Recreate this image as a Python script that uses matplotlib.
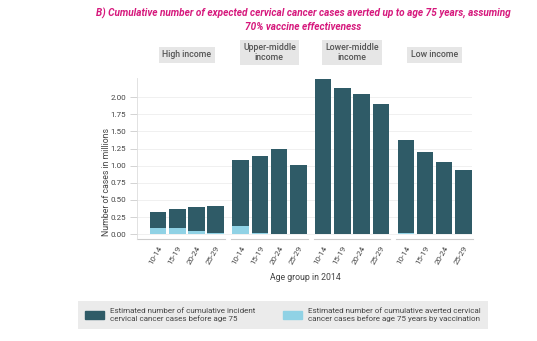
import numpy as np
import matplotlib.pyplot as plt
from matplotlib.patches import Patch

plt.rcParams["font.family"] = ["Roboto", "DejaVu Sans"]

groups = ["High income", "Upper-middle\nincome", "Lower-middle\nincome", "Low income"]
ages = ["10-14", "15-19", "20-24", "25-29"]

# cumulative incident cases before age 75 (millions)
incident = [
    [0.33, 0.365, 0.40, 0.405],
    [1.09, 1.14, 1.245, 1.015],
    [2.26, 2.135, 2.045, 1.90],
    [1.375, 1.20, 1.06, 0.935],
]
# cumulative averted cases by vaccination (millions)
averted = [
    [0.09, 0.09, 0.045, 0.015],
    [0.115, 0.02, 0.005, 0.005],
    [0.005, 0.005, 0.005, 0.005],
    [0.02, 0.005, 0.005, 0.005],
]

dark = "#2f5b67"
light = "#90d2e5"
txt = "#444444"

fig = plt.figure(figsize=(5.37, 3.41), dpi=100)
ax = fig.add_axes([137/537, 102/341, 335/537, 161/341])

gap = 4.3
pos = np.array([g*gap + np.arange(4) for g in range(4)])
for g in range(4):
    ax.bar(pos[g], incident[g], width=0.86, color=dark, zorder=2)
    ax.bar(pos[g], averted[g], width=0.86, color=light, zorder=3)
    mid = pos[g].mean()
    ax.text(mid, 1.158 if "\n" in groups[g] else 1.143, groups[g], transform=ax.get_xaxis_transform(),
            ha="center", va="center", fontsize=6.3, color="#555555", linespacing=1.1,
            fontweight="medium",
            bbox=dict(boxstyle="square,pad=0.4", fc="#e6e6e6", ec="none"))
    x0 = -1.1 if g == 0 else pos[g][0] - 0.5
    ax.plot([x0, pos[g][-1] + 0.5], [0, 0], transform=ax.get_xaxis_transform(),
            color="#cccccc", lw=0.8, clip_on=False)

ax.set_xlim(-1.1, pos[-1][-1] + 0.45)
ax.set_ylim(-0.07, 2.28)
ax.set_yticks(np.arange(0, 2.01, 0.25))
ax.set_yticklabels([f"{v:.2f}" for v in np.arange(0, 2.01, 0.25)])
ax.set_xticks(pos.ravel())
ax.set_xticklabels(ages * 4, rotation=60, ha="right", rotation_mode="anchor")
ax.tick_params(axis="y", length=5, width=0.6, color="#cccccc", labelsize=5.8,
               labelcolor=txt, pad=3)
ax.tick_params(axis="x", length=0, labelsize=5.8, labelcolor=txt, pad=4)
ax.grid(axis="y", color="#eeeeee", lw=0.6, zorder=0)
ax.set_axisbelow(True)
for s in ["top", "right", "bottom"]:
    ax.spines[s].set_visible(False)
ax.spines["left"].set_color("#dddddd")
ax.spines["left"].set_linewidth(0.6)

fig.text(106/537, 1 - 182/341, "Number of cases in millions", rotation=90,
         ha="center", va="center", fontsize=6.3, color=txt)
fig.text(305/537, 1 - 278/341, "Age group in 2014", ha="center", va="center",
         fontsize=6.3, color=txt)

fig.text(303/537, 1 - 13/341,
         "B) Cumulative number of expected cervical cancer cases averted up to age 75 years, assuming",
         ha="center", va="center", fontsize=7.2, color="#d6187c", fontweight="bold",
         style="italic")
fig.text(303/537, 1 - 27/341, "70% vaccine effectiveness",
         ha="center", va="center", fontsize=7.2, color="#d6187c", fontweight="bold",
         style="italic")

handles = [Patch(color=dark), Patch(color=light)]
labels = ["Estimated number of cumulative incident\ncervical cancer cases before age 75",
          "Estimated number of cumulative averted cervical\ncancer cases before age 75 years by vaccination"]
leg = fig.legend(handles, labels, ncol=2, mode="expand",
                 bbox_to_anchor=(78/537, 9/341, 410/537, 34/341), loc="center",
                 fontsize=5.8, frameon=True, fancybox=False, borderaxespad=0,
                 handlelength=2.3, handleheight=1.1, handletextpad=0.8,
                 borderpad=0.9, labelcolor=txt)
leg.get_frame().set_facecolor("#e6e6e6")
leg.get_frame().set_edgecolor("none")

fig.savefig("out.png", dpi=100, facecolor="white")
